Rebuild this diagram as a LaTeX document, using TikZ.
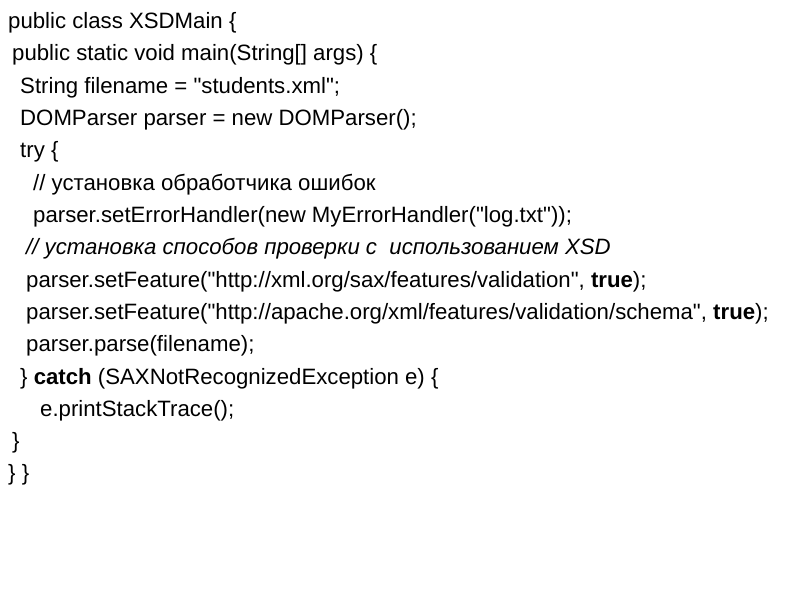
\documentclass[tikz,border=0pt]{standalone}
\usepackage{fontspec}
\setmainfont{Liberation Sans}[Ligatures=TeXOff]
\usetikzlibrary{positioning}

\begin{document}
\begin{tikzpicture}[
    x=1pt, y=1pt,
    code/.style={anchor=base west, inner sep=0pt, font=\fontsize{22.2}{26}\selectfont}
]
\useasboundingbox (0,0) rectangle (800,-600);

% Code lines
\node (l1) [code] at (8,-28) {public class XSDMain \{};
\node (l2) [code] at (12,-60) {public static void main(String[] args) \{};
\node (l3) [code] at (20,-93) {String filename = "students.xml";};
\node (l4) [code] at (20,-125) {DOMParser parser = new DOMParser();};
\node (l5) [code] at (20,-157) {try \{};
\node (l6) [code] at (33,-190) {// установка обработчика ошибок};
\node (l7) [code] at (33,-222) {parser.setErrorHandler(new MyErrorHandler("log.txt"));};
\node (l8) [code] at (26,-254) {\itshape // установка способов проверки с\ \ использованием XSD};
\node (l9) [code] at (26,-287) {parser.setFeature("http://xml.org/sax/features/validation", \textbf{true});};
\node (l10) [code] at (26,-319) {parser.setFeature("http://apache.org/xml/features/validation/schema", \textbf{true});};
\node (l11) [code] at (26,-351) {parser.parse(filename);};
\node (l12) [code] at (20,-384) {\} \textbf{catch} (SAXNotRecognizedException e) \{};
\node (l13) [code] at (40,-416) {e.printStackTrace();};
\node (l14) [code] at (12,-448) {\}};
\node (l15) [code] at (8,-480) {\} \}};

\end{tikzpicture}
\end{document}
